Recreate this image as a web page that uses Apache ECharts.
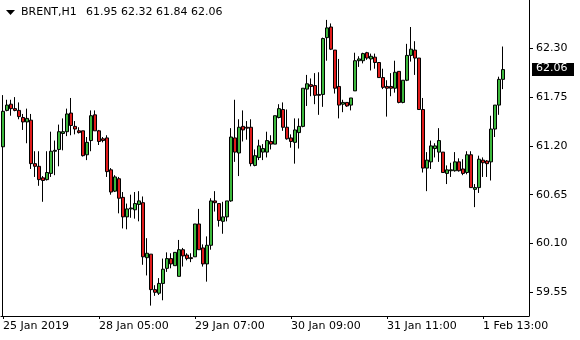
<!DOCTYPE html>
<html>
<head>
<meta charset="utf-8">
<script src="https://cdn.jsdelivr.net/npm/echarts@6/dist/echarts.min.js"></script>
<style>
html,body{margin:0;padding:0;background:#fff;}
#c{width:580px;height:340px;}
</style>
</head>
<body>
<div id="c"></div>
<script>
var symbolName = "BRENT,H1";
var tickLabels = ["25 Jan 2019","28 Jan 05:00","29 Jan 07:00","30 Jan 09:00","31 Jan 11:00","1 Feb 13:00"];
var barsPerLabel = 24;
var priceTicks = [59.55, 60.10, 60.65, 61.20, 61.75, 62.30];

var opens = [61.19,61.60,61.67,61.62,61.60,61.52,61.47,61.49,61.00,60.97,60.84,60.82,60.89,61.14,61.16,61.34,61.36,61.57,61.42,61.37,
61.37,61.10,61.26,61.55,61.37,61.28,61.29,60.93,60.69,60.83,60.62,60.40,60.49,60.48,60.54,60.56,59.94,59.98,59.58,59.54,
59.65,59.82,59.93,59.85,59.73,60.03,59.97,59.94,59.95,60.32,60.05,59.87,60.08,60.58,60.55,60.35,60.40,60.58,61.29,61.12,
61.42,61.41,61.41,60.98,61.07,61.13,61.13,61.25,61.22,61.52,61.61,61.41,61.29,61.24,61.35,61.42,61.84,61.89,61.88,61.78,
61.78,62.42,62.54,62.28,61.87,61.67,61.69,61.66,61.82,62.16,62.16,62.25,62.18,62.20,62.14,61.97,61.87,61.87,61.85,62.04,
61.69,61.94,62.22,62.28,62.19,61.61,60.95,61.02,61.17,61.13,61.13,60.89,60.92,60.92,61.02,60.94,60.90,61.10,60.71,60.73,
61.04,61.03,61.02,61.39,61.66,61.95];
var closes = [61.59,61.66,61.62,61.60,61.53,61.47,61.51,61.00,60.97,60.82,60.81,60.90,61.14,61.15,61.36,61.36,61.56,61.43,61.39,61.35,
61.09,61.24,61.54,61.37,61.25,61.26,60.91,60.68,60.85,60.61,60.40,60.49,60.50,60.55,60.58,59.95,59.99,59.58,59.55,59.65,
59.81,59.93,59.87,60.00,60.03,59.96,59.93,59.93,60.32,60.03,59.87,60.08,60.58,60.56,60.36,60.40,60.58,61.30,61.13,61.41,
61.38,61.40,61.00,61.09,61.20,61.17,61.26,61.22,61.54,61.62,61.41,61.28,61.25,61.38,61.42,61.85,61.90,61.87,61.77,61.77,
62.41,62.53,62.29,61.85,61.66,61.69,61.65,61.74,62.16,62.18,62.24,62.19,62.21,62.14,61.97,61.86,61.85,61.85,62.03,61.69,
61.94,62.22,62.29,62.19,61.61,60.95,61.04,61.20,61.20,61.26,60.90,60.93,60.93,61.02,60.92,60.89,61.10,60.73,60.73,61.05,
61.01,61.00,61.39,61.66,61.95,62.06];
var lows = [61.18,61.59,61.54,61.59,61.50,61.38,61.23,60.94,60.85,60.75,60.57,60.81,60.85,60.87,60.97,61.15,61.31,61.32,61.33,61.34,
61.08,61.04,61.14,61.37,61.21,61.24,60.85,60.65,60.68,60.44,60.27,60.26,60.39,60.38,60.35,59.86,59.74,59.40,59.51,59.52,
59.46,59.78,59.82,59.85,59.73,59.84,59.91,59.89,59.95,60.03,59.84,59.67,60.03,60.46,60.29,60.21,60.35,60.57,61.02,60.86,
61.25,61.27,60.97,60.97,61.04,61.04,61.07,61.16,61.22,61.51,61.37,61.27,61.18,61.00,61.17,61.41,61.65,61.76,61.67,61.55,
61.64,62.16,62.28,61.79,61.51,61.58,61.64,61.60,61.82,62.09,62.13,62.17,62.05,62.07,61.97,61.84,61.53,61.76,61.80,61.68,
61.68,61.93,62.15,62.00,61.61,60.90,60.69,60.94,61.07,61.02,60.90,60.77,60.85,60.91,60.91,60.87,60.88,60.73,60.51,60.67,
60.85,60.85,60.81,61.30,61.55,61.84];
var highs = [61.77,61.72,61.72,61.75,61.69,61.56,61.62,61.56,61.14,61.14,60.86,61.14,61.36,61.26,61.44,61.51,61.62,61.74,61.48,61.41,
61.37,61.30,61.60,61.60,61.38,61.30,61.32,60.95,60.87,60.85,60.68,60.55,60.65,60.68,60.69,60.63,60.16,59.98,59.63,59.71,
59.93,60.00,59.99,60.00,60.14,60.05,59.99,59.99,60.32,60.49,60.09,60.18,60.61,60.69,60.55,60.57,60.58,61.40,61.72,61.50,
61.60,61.48,61.50,61.16,61.27,61.22,61.36,61.32,61.54,61.67,61.69,61.61,61.33,61.51,61.51,61.85,62.00,61.96,62.02,62.03,
62.42,62.62,62.58,62.28,62.18,61.72,61.69,61.74,62.25,62.21,62.25,62.26,62.24,62.24,62.14,62.07,61.94,62.02,62.16,62.04,
61.94,62.35,62.54,62.38,62.19,61.74,61.13,61.26,61.23,61.40,61.13,60.98,61.01,61.13,61.06,61.05,61.14,61.14,60.77,61.09,
61.07,61.04,61.54,61.66,61.98,62.32];

var FONT = "DejaVu Sans";
var N = opens.length;
var emptySlots = 6;
var cats = [];
for (var i = 0; i < N + emptySlots; i++) cats.push(String(i));
var candles = [];
for (var j = 0; j < N; j++) candles.push([opens[j], closes[j], lows[j], highs[j]]);

var last = N - 1;
var ohlcText = [opens[last], highs[last], lows[last], closes[last]].map(function(v){return v.toFixed(2);}).join(" ");

var chart = echarts.init(document.getElementById('c'), null, {renderer: 'canvas'});
var showIdx = function (idx) { return idx % barsPerLabel === 0 && idx < N; };

chart.setOption({
  animation: false,
  backgroundColor: '#ffffff',
  grid: {left: 1, right: 51, top: 0, bottom: 24, containLabel: false},
  xAxis: {
    type: 'category',
    data: cats,
    boundaryGap: true,
    axisLine: {show: true, lineStyle: {color: '#000', width: 1}},
    axisTick: {show: true, alignWithLabel: true, length: 3, interval: function (idx) { return showIdx(idx); }, lineStyle: {color: '#000'}},
    axisLabel: {
      show: true,
      interval: function (idx) { return showIdx(idx); },
      formatter: function (v, idx) { return tickLabels[Math.round(idx / barsPerLabel)] || ''; },
      align: 'left',
      margin: 5,
      color: '#000',
      fontFamily: FONT,
      fontSize: 11
    },
    splitLine: {show: false}
  },
  yAxis: {
    type: 'value',
    position: 'right',
    min: 59.2829,
    max: 62.8443,
    axisLine: {show: true, lineStyle: {color: '#000', width: 1}},
    axisTick: {show: true, length: 4, customValues: priceTicks, lineStyle: {color: '#000'}},
    axisLabel: {
      show: true,
      customValues: priceTicks,
      formatter: function (v) { return v.toFixed(2); },
      margin: 7,
      color: '#000',
      fontFamily: FONT,
      fontSize: 11
    },
    splitLine: {show: false}
  },
  series: [{
    type: 'candlestick',
    data: candles,
    barWidth: 3,
    itemStyle: {
      color: '#3cb83c',
      color0: '#e01b1b',
      borderColor: '#000',
      borderColor0: '#000',
      borderColorDoji: '#000',
      borderWidth: 1
    }
  }]
});

var yTag = chart.convertToPixel({yAxisIndex: 0}, closes[last]);
var yTop = chart.convertToPixel({yAxisIndex: 0}, highs[0]);
var yBottom = chart.convertToPixel({yAxisIndex: 0}, 59.2829);

chart.setOption({
  graphic: [
    {type: 'polygon', shape: {points: [[6, 10], [15, 10], [10.5, 15]]}, style: {fill: '#000'}},
    {type: 'text', left: 21, top: 7, style: {text: symbolName, fill: '#000', font: '11px "' + FONT + '"'}},
    {type: 'text', left: 86, top: 7, style: {text: ohlcText, fill: '#000', font: '11px "' + FONT + '"'}},
    {type: 'line', shape: {x1: 2.5, y1: yTop, x2: 2.5, y2: yBottom}, style: {stroke: '#000', lineWidth: 1}},
    {type: 'rect', shape: {x: 532, y: Math.round(yTag) - 7, width: 42, height: 13}, style: {fill: '#000'}},
    {type: 'text', left: 536, top: Math.round(yTag) - 7, style: {text: closes[last].toFixed(2), fill: '#fff', font: '11px "' + FONT + '"'}}
  ]
});
</script>
</body>
</html>
